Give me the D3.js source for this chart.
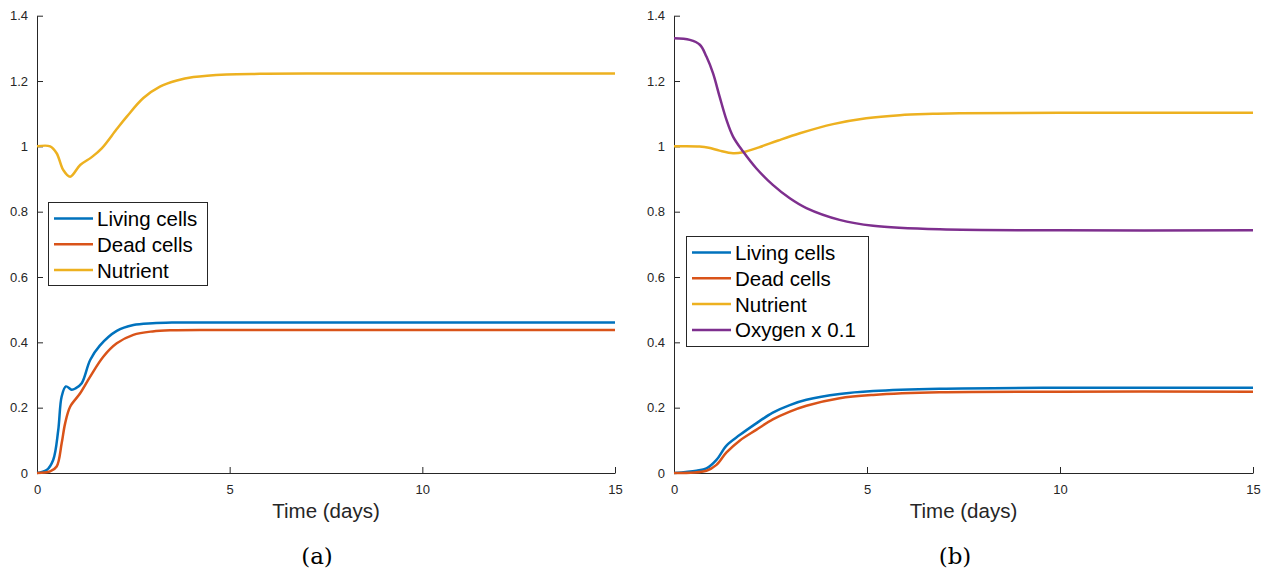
<!DOCTYPE html>
<html>
<head>
<meta charset="utf-8">
<script src="https://cdn.jsdelivr.net/npm/d3@7"></script>
<style>
  body { margin: 0; background: #fff; }
</style>
</head>
<body>
<script>
'use strict';

// panel (a): living cells, dead cells, nutrient
const livingA_t = [0, 0.25, 0.42, 0.55, 0.64, 0.75, 0.9, 1.0, 1.16, 1.38, 1.63, 2.07, 2.5, 3.0, 3.5, 4.5, 6, 10, 15];
const livingA_v = [0, 0.009, 0.04, 0.13, 0.234, 0.265, 0.255, 0.259, 0.275, 0.346, 0.390, 0.435, 0.453, 0.4585, 0.4605, 0.461, 0.461, 0.461, 0.461];

const deadA_t = [0, 0.34, 0.51, 0.64, 0.73, 0.86, 1.12, 1.38, 1.72, 2.07, 2.5, 3.0, 3.5, 4.5, 6, 10, 15];
const deadA_v = [0, 0.005, 0.02, 0.091, 0.152, 0.203, 0.244, 0.295, 0.356, 0.397, 0.423, 0.4335, 0.437, 0.438, 0.438, 0.438, 0.438];

const nutrientA_t = [0, 0.34, 0.51, 0.68, 0.86, 1.12, 1.42, 1.68, 2.07, 2.33, 2.76, 3.19, 3.63, 4.06, 4.92, 5.79, 7, 10, 15];
const nutrientA_v = [1.0, 1.0, 0.979, 0.928, 0.907, 0.943, 0.967, 0.994, 1.053, 1.091, 1.148, 1.183, 1.2016, 1.212, 1.220, 1.222, 1.223, 1.223, 1.223];

// panel (b): living cells, dead cells, nutrient, oxygen x 0.1
const livingB_t = [0, 0.58, 0.84, 1.1, 1.36, 1.7, 2.13, 2.56, 3.0, 3.43, 4.29, 5.16, 6.88, 10, 15];
const livingB_v = [0, 0.007, 0.014, 0.04, 0.084, 0.116, 0.152, 0.185, 0.208, 0.224, 0.242, 0.251, 0.258, 0.261, 0.261];

const deadB_t = [0, 0.84, 1.1, 1.36, 1.7, 2.13, 2.56, 3.0, 3.43, 4.29, 5.16, 6.88, 10, 15];
const deadB_v = [0, 0.007, 0.025, 0.063, 0.099, 0.132, 0.164, 0.188, 0.206, 0.229, 0.239, 0.247, 0.249, 0.249];

const nutrientB_t = [0, 0.66, 0.9, 1.18, 1.53, 1.79, 2.2, 2.7, 3.26, 4.12, 4.98, 5.85, 6.71, 7.4, 10, 15];
const nutrientB_v = [1.0, 0.9995, 0.996, 0.987, 0.979, 0.982, 0.997, 1.018, 1.040, 1.068, 1.086, 1.0955, 1.0995, 1.1017, 1.103, 1.103];

const oxygenB_t = [0, 0.41, 0.67, 0.84, 1.01, 1.18, 1.36, 1.53, 1.79, 2.13, 2.56, 3.0, 3.43, 4.29, 5.16, 6.88, 10, 15];
const oxygenB_v = [1.331, 1.326, 1.311, 1.275, 1.224, 1.153, 1.081, 1.030, 0.984, 0.933, 0.882, 0.841, 0.811, 0.775, 0.757, 0.746, 0.743, 0.743];

const xTicks = [0, 5, 10, 15];
const yTicks = [0, 0.2, 0.4, 0.6, 0.8, 1, 1.2, 1.4];
const xLabel = 'Time (days)';
const captions = ['(a)', '(b)'];

const colors = {
  living: '#0072BD',
  dead: '#D95319',
  nutrient: '#EDB120',
  oxygen: '#7E2F8E'
};

const panels = [
  {
    left: 37, right: 615, caption: captions[0], captionX: 317,
    legend: { x: 48, y: 202, w: 159, h: 83 },
    series: [
      { name: 'Living cells', t: livingA_t, v: livingA_v, color: colors.living },
      { name: 'Dead cells', t: deadA_t, v: deadA_v, color: colors.dead },
      { name: 'Nutrient', t: nutrientA_t, v: nutrientA_v, color: colors.nutrient }
    ]
  },
  {
    left: 674, right: 1253, caption: captions[1], captionX: 955,
    legend: { x: 686, y: 236, w: 182, h: 110 },
    series: [
      { name: 'Living cells', t: livingB_t, v: livingB_v, color: colors.living },
      { name: 'Dead cells', t: deadB_t, v: deadB_v, color: colors.dead },
      { name: 'Nutrient', t: nutrientB_t, v: nutrientB_v, color: colors.nutrient },
      { name: 'Oxygen x 0.1', t: oxygenB_t, v: oxygenB_v, color: colors.oxygen }
    ]
  }
];

const svg = d3.select('body')
  .append('svg')
  .attr('width', 1267)
  .attr('height', 571)
  .style('font-family', '"Liberation Sans", Arial, sans-serif');

const plotTop = 15.7, plotBottom = 473;
const axisColor = '#262626';

panels.forEach(function(p) {
  const x = d3.scaleLinear().domain([0, 15]).range([p.left, p.right]);
  const y = d3.scaleLinear().domain([0, 1.4]).range([plotBottom, plotTop]);

  // x axis, ticks pointing inward
  const xAxis = svg.append('g')
    .attr('transform', 'translate(0,' + plotBottom + ')')
    .call(d3.axisBottom(x).tickValues(xTicks).tickSizeInner(-6).tickSizeOuter(0).tickPadding(12).tickFormat(d3.format('d')));

  // y axis
  const yAxis = svg.append('g')
    .attr('transform', 'translate(' + p.left + ',0)')
    .call(d3.axisLeft(y).tickValues(yTicks).tickSizeInner(-6).tickSizeOuter(0).tickPadding(9).tickFormat(function(d) { return d3.format('~g')(d); }));

  [xAxis, yAxis].forEach(function(a) {
    a.select('.domain').attr('stroke', axisColor).attr('stroke-width', 1);
    a.selectAll('.tick line').attr('stroke', axisColor);
    a.selectAll('.tick text')
      .attr('fill', axisColor)
      .style('font-size', '13px')
      .style('font-family', '"Liberation Sans", Arial, sans-serif');
  });

  // lines
  const line = d3.line()
    .x(function(d) { return x(d[0]); })
    .y(function(d) { return y(d[1]); })
    .curve(d3.curveCatmullRom.alpha(0.5));

  p.series.forEach(function(s) {
    svg.append('path')
      .datum(d3.zip(s.t, s.v))
      .attr('d', line)
      .attr('fill', 'none')
      .attr('stroke', s.color)
      .attr('stroke-width', 2.5)
      .attr('stroke-linejoin', 'round');
  });

  // x label
  svg.append('text')
    .attr('x', (p.left + p.right) / 2)
    .attr('y', 518)
    .attr('text-anchor', 'middle')
    .attr('fill', axisColor)
    .style('font-size', '20.5px')
    .text(xLabel);

  // caption
  svg.append('text')
    .attr('x', p.captionX)
    .attr('y', 564)
    .attr('text-anchor', 'middle')
    .attr('fill', '#000')
    .style('font-family', '"DejaVu Serif", "Liberation Serif", serif')
    .style('font-size', '23px')
    .text(p.caption);

  // legend
  const lg = svg.append('g').attr('transform', 'translate(' + p.legend.x + ',' + p.legend.y + ')');
  lg.append('rect')
    .attr('x', 0.5).attr('y', 0.5)
    .attr('width', p.legend.w).attr('height', p.legend.h)
    .attr('fill', '#fff')
    .attr('stroke', axisColor)
    .attr('stroke-width', 1);

  p.series.forEach(function(s, i) {
    const cy = 16.5 + i * 25.8;
    lg.append('line')
      .attr('x1', 6).attr('x2', 45)
      .attr('y1', cy).attr('y2', cy)
      .attr('stroke', s.color)
      .attr('stroke-width', 2.5);
    lg.append('text')
      .attr('x', 49)
      .attr('y', cy + 7.5)
      .attr('fill', '#000')
      .style('font-size', '20.5px')
      .text(s.name);
  });
});
</script>
</body>
</html>
